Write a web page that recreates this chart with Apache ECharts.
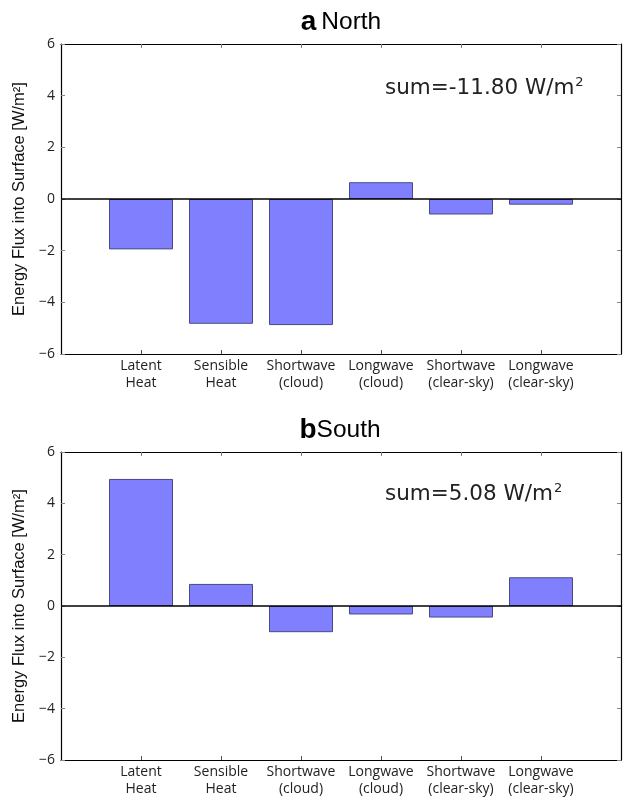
<!DOCTYPE html>
<html>
<head>
<meta charset="utf-8">
<script src="https://cdn.jsdelivr.net/npm/echarts@6/dist/echarts.min.js"></script>
<style>html,body{margin:0;padding:0;background:#fff}#c{width:627px;height:798px}</style>
</head>
<body>
<div id="c"></div>
<script>
const categories = ['', 'Latent\nHeat', 'Sensible\nHeat', 'Shortwave\n(cloud)', 'Longwave\n(cloud)', 'Shortwave\n(clear-sky)', 'Longwave\n(clear-sky)', ''];
const northValues = [null, -1.95, -4.83, -4.88, 0.65, -0.6, -0.22, null];
const southValues = [null, 4.95, 0.86, -1.02, -0.33, -0.45, 1.12, null];
const panelTitles = [['a', 'North'], ['b', 'South']];
const sumTexts = ['sum=-11.80 W/m', 'sum=5.08 W/m'];
const yTicks = { min: -6, max: 6, interval: 2 };
const yName = 'Energy Flux into Surface [W/m²]';

const chart = echarts.init(document.getElementById('c'));
const font = 'Open Sans';
const grids = [
  { left: 61, top: 44, width: 560, height: 310 },
  { left: 61, top: 452, width: 560, height: 309 }
];
const tickShow = (i) => i > 0 && i < categories.length - 1;
const xAxes = [], yAxes = [], series = [];
[northValues, southValues].forEach((vals, g) => {
  xAxes.push({
    type: 'category', gridIndex: g, data: categories, boundaryGap: false, position: 'bottom',
    axisLine: { show: true, onZero: false, lineStyle: { color: '#000', width: 1.2 } },
    axisTick: { show: true, inside: true, length: 4, interval: tickShow, lineStyle: { color: '#555' } },
    axisLabel: { interval: 0, color: '#222', fontFamily: font, fontSize: 14, lineHeight: 17, margin: 4 },
    splitLine: { show: false }
  });
  xAxes.push({
    type: 'category', gridIndex: g, data: categories, boundaryGap: false, position: 'top',
    axisLine: { show: true, onZero: false, lineStyle: { color: '#000', width: 1.2 } },
    axisTick: { show: true, inside: true, length: 4, interval: tickShow, lineStyle: { color: '#777' } },
    axisLabel: { show: false }, splitLine: { show: false }
  });
  yAxes.push({
    type: 'value', gridIndex: g, min: yTicks.min, max: yTicks.max, interval: yTicks.interval, position: 'left',
    name: yName, nameLocation: 'middle', nameRotate: 90, nameGap: 29,
    nameTextStyle: { fontFamily: 'Liberation Sans', fontSize: 16.5, color: '#111' },
    axisLine: { show: true, onZero: false, lineStyle: { color: '#000', width: 1.2 } },
    axisTick: { show: true, inside: true, length: 4, lineStyle: { color: '#888' } },
    axisLabel: { color: '#222', fontFamily: font, fontSize: 14, margin: 6,
      formatter: v => String(v).replace('-', '\u2212') },
    splitLine: { show: false }
  });
  yAxes.push({
    type: 'value', gridIndex: g, min: yTicks.min, max: yTicks.max, interval: yTicks.interval, position: 'right',
    axisLine: { show: true, onZero: false, lineStyle: { color: '#000', width: 1.2 } },
    axisTick: { show: true, inside: true, length: 4, lineStyle: { color: '#888' } },
    axisLabel: { show: false }, splitLine: { show: false }
  });
  series.push({
    type: 'bar', xAxisIndex: g * 2, yAxisIndex: g * 2, data: vals, barWidth: '80%',
    itemStyle: { color: '#8080ff', borderColor: '#4a4a80', borderWidth: 1 },
    silent: true,
    markLine: {
      silent: true, symbol: 'none', label: { show: false },
      lineStyle: { color: '#000', width: 1.5, type: 'solid' },
      data: [{ yAxis: 0 }]
    }
  });
});

const rich = {
  a: { fontFamily: 'Liberation Sans', fontWeight: 'bold', fontSize: 28, color: '#000' },
  n: { fontFamily: 'Liberation Sans', fontWeight: 'normal', fontSize: 24.5, color: '#000' }
};
const sumRich = {
  t: { fontFamily: 'DejaVu Sans', fontSize: 21.5, fill: '#222' },
  s: { fontFamily: 'DejaVu Sans', fontSize: 13, fill: '#222', verticalAlign: 'top', padding: [0, 0, 11, 1] }
};
chart.setOption({
  animation: false,
  backgroundColor: '#fff',
  grid: grids,
  title: [
    { text: '{a|' + panelTitles[0][0] + '} {n|' + panelTitles[0][1] + '}', left: 336, top: 3, textAlign: 'center', textStyle: { rich } },
    { text: '{a|' + panelTitles[1][0] + '}{n|' + panelTitles[1][1] + '}', left: 335, top: 411, textAlign: 'center', textStyle: { rich } }
  ],
  xAxis: xAxes,
  yAxis: yAxes,
  series: series,
  graphic: [
    { type: 'text', left: 385, top: 76, style: { text: '{t|' + sumTexts[0] + '}{s|2}', rich: sumRich } },
    { type: 'text', left: 385, top: 482, style: { text: '{t|' + sumTexts[1] + '}{s|2}', rich: sumRich } }
  ]
});
</script>
</body>
</html>
